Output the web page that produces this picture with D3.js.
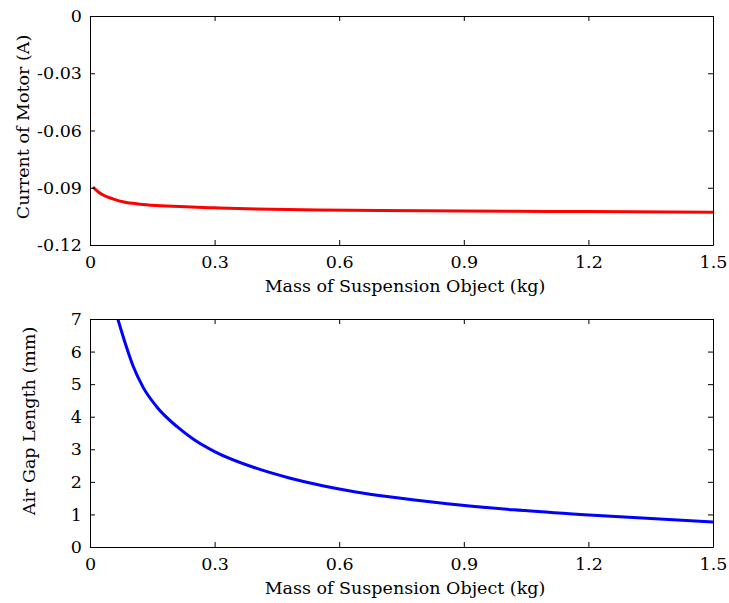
<!DOCTYPE html>
<html>
<head>
<meta charset="utf-8">
<script src="https://cdn.jsdelivr.net/npm/d3@7"></script>
<style>
  body { margin: 0; background: #fff; }
  svg text { font-family: "DejaVu Serif", "Liberation Serif", serif; fill: #000; }
</style>
</head>
<body>
<svg id="chart" width="729" height="603"></svg>
<script>
'use strict';

// mass of suspension object (kg) -> motor current (A)
var massCurrent = [0.007, 0.02, 0.035, 0.055, 0.082, 0.12, 0.16, 0.23, 0.3, 0.4, 0.55, 0.7, 0.9, 1.1, 1.3, 1.5];
var current = [-0.0896, -0.0922, -0.0942, -0.0958, -0.0975, -0.0986, -0.0993, -0.1, -0.1005, -0.1011, -0.1016, -0.1019, -0.1022, -0.1024, -0.1026, -0.1029];

// mass of suspension object (kg) -> air gap length (mm)
var massGap = [0.067, 0.085, 0.104, 0.128, 0.161, 0.209, 0.25, 0.3, 0.4, 0.48, 0.56, 0.64, 0.72, 0.86, 1.02, 1.18, 1.34, 1.5];
var gap = [7.0, 6.25, 5.55, 4.9, 4.3, 3.7, 3.3, 2.93, 2.42, 2.12, 1.88, 1.69, 1.54, 1.33, 1.14, 1.0, 0.88, 0.77];

var xTicks = [0, 0.3, 0.6, 0.9, 1.2, 1.5];
var currentTicks = [-0.12, -0.09, -0.06, -0.03, 0];
var gapTicks = [0, 1, 2, 3, 4, 5, 6, 7];

var svg = d3.select('#chart');
var fontSize = '17.5px';

function drawPanel(opts) {
  var x = d3.scaleLinear().domain([0, 1.5]).range([90, 713]);
  var y = d3.scaleLinear().domain(opts.yDomain).range([opts.bottom, opts.top]);

  var g = svg.append('g');

  // clip the curve to the plot box
  var clipId = 'clip-' + opts.name;
  g.append('clipPath').attr('id', clipId)
    .append('rect')
    .attr('x', 90).attr('y', opts.top)
    .attr('width', 623).attr('height', opts.bottom - opts.top);

  var line = d3.line()
    .x(function(d) { return x(d[0]); })
    .y(function(d) { return y(d[1]); })
    .curve(d3.curveMonotoneX);

  g.append('path')
    .datum(d3.zip(opts.xs, opts.ys))
    .attr('clip-path', 'url(#' + clipId + ')')
    .attr('fill', 'none')
    .attr('stroke', opts.color)
    .attr('stroke-width', 3)
    .attr('d', line);

  // axes: ticks pointing inward on all four sides
  var fmtX = function(d) { return d === 0 ? '0' : d3.format('.1f')(d); };
  var axisStyle = function(sel) {
    sel.select('.domain').attr('stroke', '#000').attr('stroke-width', 1);
    sel.selectAll('.tick line').attr('stroke', '#000');
    sel.selectAll('text').style('font-size', fontSize).style('font-family', '"DejaVu Serif", serif');
  };

  g.append('g')
    .attr('transform', 'translate(0,' + opts.bottom + ')')
    .call(d3.axisBottom(x).tickValues(xTicks).tickFormat(fmtX).tickSizeInner(-5).tickSizeOuter(0).tickPadding(11))
    .call(axisStyle);

  g.append('g')
    .attr('transform', 'translate(0,' + opts.top + ')')
    .call(d3.axisTop(x).tickValues(xTicks).tickFormat('').tickSizeInner(-5).tickSizeOuter(0))
    .call(axisStyle);

  g.append('g')
    .attr('transform', 'translate(90,0)')
    .call(d3.axisLeft(y).tickValues(opts.yTicks).tickFormat(opts.yFormat).tickSizeInner(-5).tickSizeOuter(0).tickPadding(8))
    .call(axisStyle);

  g.append('g')
    .attr('transform', 'translate(713,0)')
    .call(d3.axisRight(y).tickValues(opts.yTicks).tickFormat('').tickSizeInner(-5).tickSizeOuter(0))
    .call(axisStyle);

  // axis titles
  g.append('text')
    .attr('x', 405).attr('y', opts.bottom + 47)
    .attr('text-anchor', 'middle')
    .style('font-size', fontSize)
    .text('Mass of Suspension Object (kg)');

  g.append('text')
    .attr('transform', 'translate(' + opts.yLabelX + ',' + opts.yLabelY + ') rotate(-90)')
    .attr('text-anchor', 'middle')
    .style('font-size', fontSize)
    .text(opts.yLabel);
}

drawPanel({
  name: 'current', top: 16, bottom: 245,
  xs: massCurrent, ys: current, color: '#ff0000',
  yDomain: [-0.12, 0], yTicks: currentTicks,
  // plain hyphen for the minus sign, like the original
  yFormat: function(d) { return d === 0 ? '0' : d.toFixed(2); },
  yLabel: 'Current of Motor (A)', yLabelX: 29, yLabelY: 127
});

drawPanel({
  name: 'gap', top: 319, bottom: 547,
  xs: massGap, ys: gap, color: '#0000ff',
  yDomain: [0, 7], yTicks: gapTicks,
  yFormat: d3.format('d'),
  yLabel: 'Air Gap Length (mm)', yLabelX: 35, yLabelY: 421
});
</script>
</body>
</html>
